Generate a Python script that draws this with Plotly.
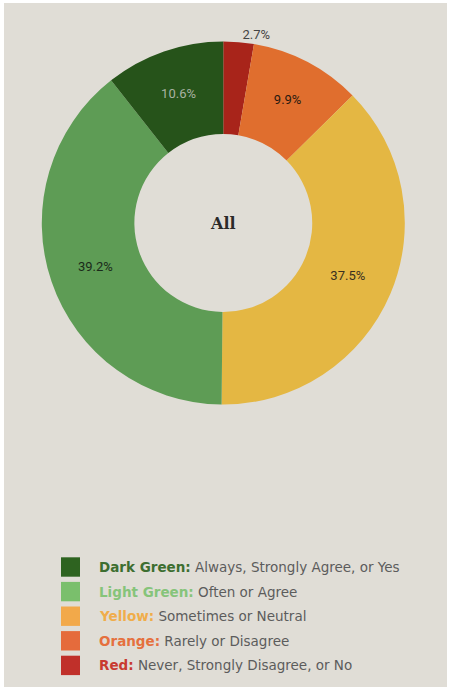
import plotly.graph_objects as go

categories = ["Red", "Orange", "Yellow", "Light Green", "Dark Green"]
values = [2.7, 9.9, 37.5, 39.2, 10.6]
slice_colors = ["#a8241a", "#e06e2e", "#e4b743", "#5e9c55", "#26531a"]
label_text_colors = ["#444444", "#2a1a10", "#3a3020", "#1a2a1a", "#a9b2a2"]
text_positions = ["outside", "inside", "inside", "inside", "inside"]
center_title = "All"

legend_names = ["Dark Green:", "Light Green:", "Yellow:", "Orange:", "Red:"]
legend_desc = ["Always, Strongly Agree, or Yes", "Often or Agree",
               "Sometimes or Neutral", "Rarely or Disagree",
               "Never, Strongly Disagree, or No"]
legend_box_colors = ["#2e6320", "#7abf6c", "#f2a94a", "#e56b3c", "#c0302a"]
legend_name_colors = ["#3d6e30", "#86c47a", "#f0ad4a", "#e5703e", "#c83a30"]

W, H = 449, 687
fig = go.Figure()

cx, cy, r = 223.3, 223.0, 181.5
fig.add_trace(go.Pie(
    labels=categories, values=values, sort=False, direction="clockwise",
    rotation=0, hole=0.49,
    marker=dict(colors=slice_colors, line=dict(width=0)),
    texttemplate="%{value}%", textposition=text_positions,
    insidetextorientation="horizontal",
    textfont=dict(family="Roboto", size=13, color=label_text_colors),
    outsidetextfont=dict(family="Roboto", size=13, color="#444444"),
    domain=dict(x=[(cx - r) / W, (cx + r) / W],
                y=[(H - cy - r) / H, (H - cy + r) / H]),
    showlegend=False, hoverinfo="label+percent",
))

shapes = [dict(type="rect", xref="paper", yref="paper", x0=4 / W, x1=447 / W,
               y0=0, y1=(H - 3) / H, fillcolor="#e0ddd6", line=dict(width=0),
               layer="below")]
annotations = [dict(text="<b>%s</b>" % center_title, x=cx / W, y=(H - cy) / H,
                    xref="paper", yref="paper", showarrow=False,
                    xanchor="center", yanchor="middle",
                    font=dict(family="DejaVu Serif", size=16, color="#2a2a2a"))]

row0, dy = 567.0, 24.6
for i, (nm, ds) in enumerate(zip(legend_names, legend_desc)):
    yc = row0 + i * dy
    shapes.append(dict(type="rect", xref="paper", yref="paper",
                       x0=61 / W, x1=80 / W, y0=(H - yc - 9.7) / H, y1=(H - yc + 9.7) / H,
                       fillcolor=legend_box_colors[i], line=dict(width=0)))
    annotations.append(dict(
        text='<span style="color:%s"><b>%s</b></span> %s' % (legend_name_colors[i], nm, ds),
        x=97 / W, y=(H - yc) / H, xref="paper", yref="paper",
        xanchor="left", yanchor="middle", showarrow=False,
        font=dict(family="DejaVu Sans", size=13.5, color="#5c5c5c")))

fig.update_layout(width=W, height=H, margin=dict(l=0, r=0, t=0, b=0),
                  paper_bgcolor="white", plot_bgcolor="white",
                  shapes=shapes, annotations=annotations)

fig.write_html("out.html")
